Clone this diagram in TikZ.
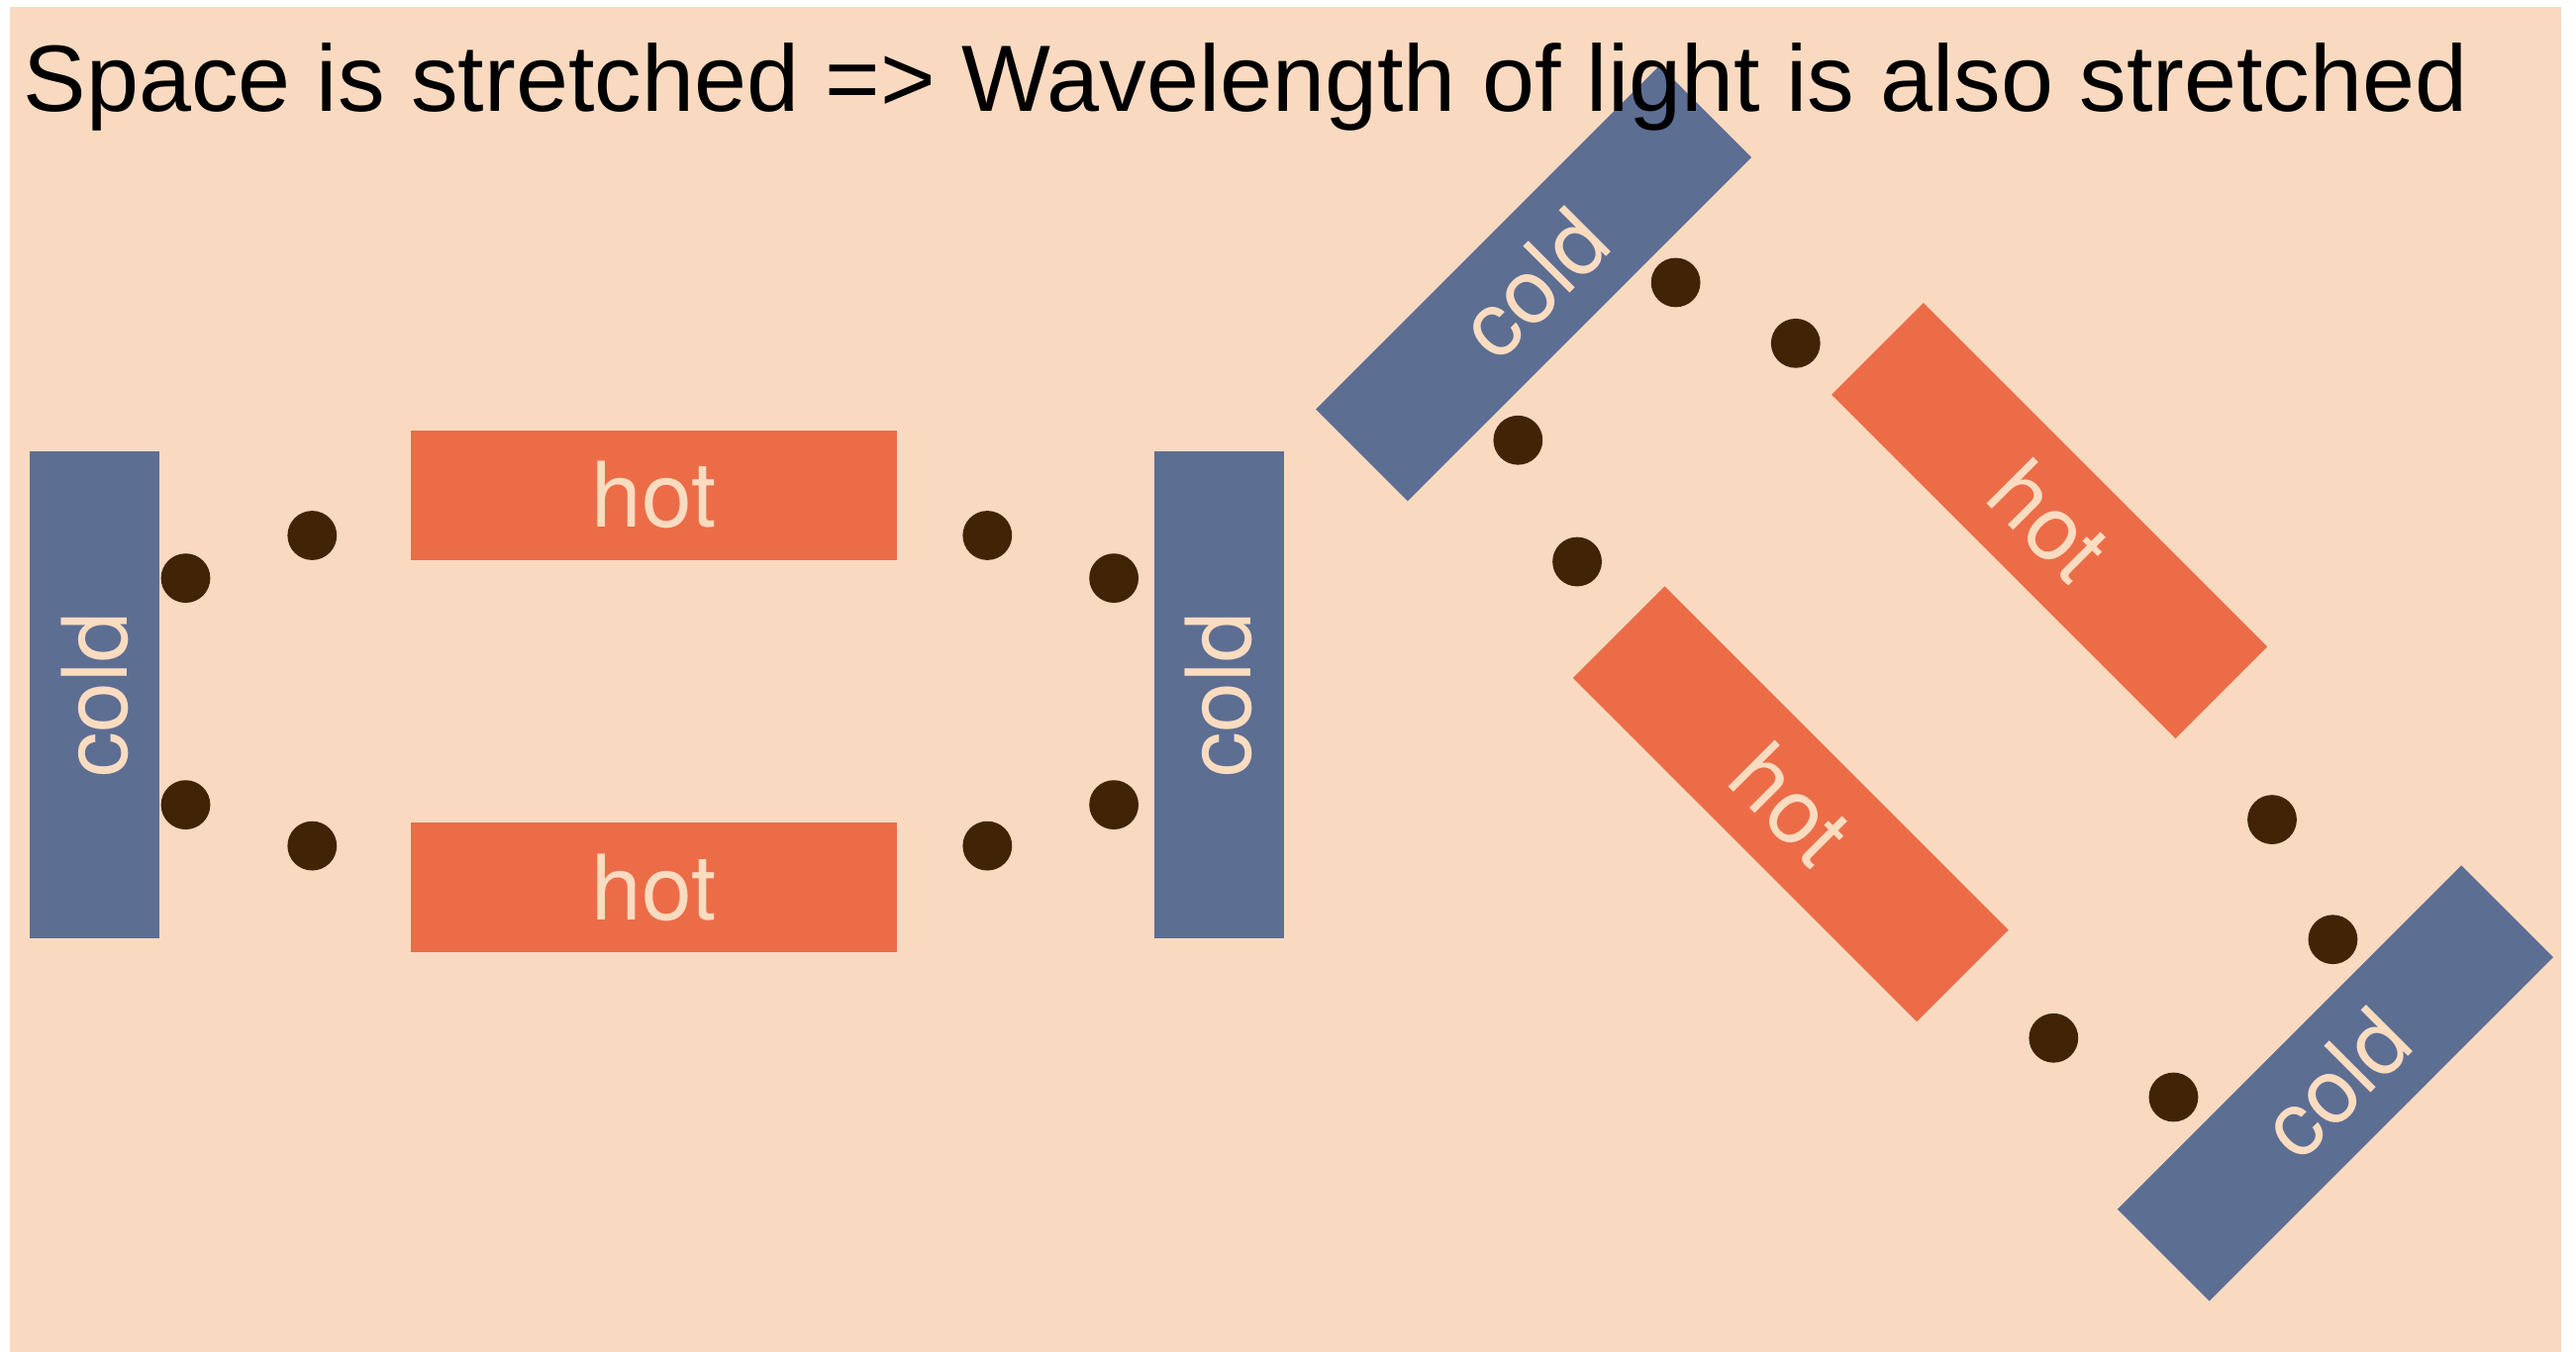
\documentclass[tikz,border=0pt]{standalone}
\usepackage{fontspec}
\setmainfont{TeX Gyre Heros}
\newfontfamily\titlefont{Liberation Sans}
\definecolor{bgpeach}{HTML}{F9DAC0}
\definecolor{coldblue}{HTML}{5D6E93}
\definecolor{hotorange}{HTML}{EC6C48}
\definecolor{labelpeach}{HTML}{FADCC0}
\definecolor{dotbrown}{HTML}{412405}
\tikzset{
  bar/.style={rectangle, inner sep=0pt, minimum width=296pt, minimum height=79pt,
    text=labelpeach, font=\fontsize{55}{60}\selectfont},
  coldbar/.style={bar, fill=coldblue},
  hotbar/.style={bar, fill=hotorange},
  photon/.style={circle, inner sep=0pt, minimum size=30pt, fill=dotbrown}
}
\begin{document}
\begin{tikzpicture}[x=1pt,y=-1pt]
\useasboundingbox (0,0) rectangle (1568,823);
\fill[white] (0,0) rectangle (1568,823);
\fill[bgpeach] (6,4.2) rectangle (1559,823);

% left (unstretched) arrangement
\node[coldbar, rotate=90] (c1) at (57.5,423) {cold};
\node[coldbar, rotate=90] (c2) at (742,423) {cold};
\node[hotbar] (h1) at (398,301.5) {hot};
\node[hotbar] (h2) at (398,540.5) {hot};

\node[photon] (p1) at (113,352) {};
\node[photon] (p2) at (190,326) {};
\node[photon] (p3) at (113,490) {};
\node[photon] (p4) at (190,515) {};
\node[photon] (p5) at (601,326) {};
\node[photon] (p6) at (678,352) {};
\node[photon] (p7) at (601,515) {};
\node[photon] (p8) at (678,490) {};

% right (stretched) arrangement
\node[coldbar, rotate=45] (c3) at (933.5,172.5) {cold};
\node[hotbar, rotate=-45] (h3) at (1247.5,317) {hot};
\node[hotbar, rotate=-45] (h4) at (1090,489.5) {hot};
\node[coldbar, rotate=45] (c4) at (1421.5,659.5) {cold};

\node[photon] (q1) at (1020,172) {};
\node[photon] (q2) at (1093,209) {};
\node[photon] (q3) at (924,268) {};
\node[photon] (q4) at (960,342) {};
\node[photon] (q5) at (1383,499) {};
\node[photon] (q6) at (1420,572) {};
\node[photon] (q7) at (1250,632) {};
\node[photon] (q8) at (1323,668) {};

% title
\node[anchor=base west, inner sep=0pt, font=\titlefont\fontsize{57.4}{60}\selectfont] (title) at (14,68)
  {Space is stretched => Wavelength of light is also stretched};
\end{tikzpicture}
\end{document}
